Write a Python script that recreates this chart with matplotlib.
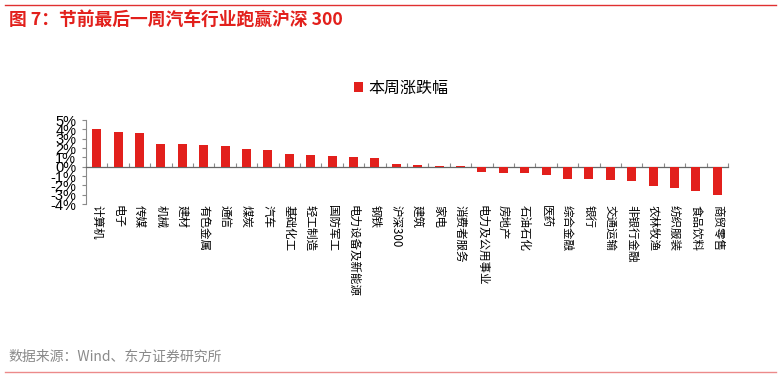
import matplotlib
matplotlib.use("Agg")
import matplotlib.pyplot as plt
from matplotlib.patches import Patch
from matplotlib.lines import Line2D
import numpy as np

plt.rcParams['font.family'] = ['Noto Sans CJK SC', 'DejaVu Sans']

categories = ["计算机", "电子", "传媒", "机械", "建材", "有色金属", "通信", "煤炭", "汽车",
              "基础化工", "轻工制造", "国防军工", "电力设备及新能源", "钢铁", "沪深300", "建筑",
              "家电", "消费者服务", "电力及公用事业", "房地产", "石油石化", "医药", "综合金融",
              "银行", "交通运输", "非银行金融", "农林牧渔", "纺织服装", "食品饮料", "商贸零售"]
values = [4.00, 3.70, 3.66, 2.46, 2.39, 2.28, 2.17, 1.85, 1.74,
          1.41, 1.27, 1.09, 1.00, 0.98, 0.33, 0.18,
          0.11, 0.04, -0.62, -0.69, -0.72, -0.87, -1.27,
          -1.30, -1.41, -1.56, -2.10, -2.30, -2.60, -3.05]
series_name = "本周涨跌幅"
yticks = [-4, -3, -2, -1, 0, 1, 2, 3, 4, 5]
ytick_labels = [f"{v}%" for v in yticks]

RED = "#e2201c"
GRAY = "#8a8a8a"

W, H = 782, 379
fig = plt.figure(figsize=(W / 100, H / 100), dpi=100)

# header / footer decorations
fig.add_artist(Line2D([5 / W, 776 / W], [1 - 5 / H, 1 - 5 / H], color="#e03030", lw=1.0))
fig.text(9 / W, 1 - 20 / H, "图 7：节前最后一周汽车行业跑赢沪深 300", color=RED,
         fontsize=12.8, fontweight="bold", va="center", ha="left")
fig.text(8 / W, 1 - 357 / H, "数据来源：Wind、东方证券研究所", color=GRAY,
         fontsize=10, va="center", ha="left")
fig.add_artist(Line2D([5 / W, 776 / W], [1 - 372 / H, 1 - 372 / H], color="#ec8a8a", lw=1.0))

ax = fig.add_axes([86 / W, 1 - 204 / H, (728 - 86) / W, (204 - 120) / H])
x = np.arange(len(categories))
ax.bar(x, values, width=0.42, color=RED, zorder=3)
ax.set_xlim(-0.5, len(categories) - 0.5)
ax.set_ylim(-4, 5)

ax.set_yticks(yticks)
ax.set_yticklabels(ytick_labels, family=["Liberation Sans", "DejaVu Sans"], fontsize=10.5)
ax.tick_params(axis="y", direction="out", length=3, width=0.8, color=GRAY, pad=4)

for s in ["top", "right"]:
    ax.spines[s].set_visible(False)
ax.spines["left"].set_color(GRAY)
ax.spines["left"].set_linewidth(0.8)
ax.spines["bottom"].set_position(("data", 0))
ax.spines["bottom"].set_color("#666666")
ax.spines["bottom"].set_linewidth(0.9)
ax.set_xticks(np.arange(-0.5, len(categories), 1.0))
ax.set_xticklabels([])
ax.tick_params(axis="x", direction="in", length=3, width=0.8, color=GRAY)

sec = ax.secondary_xaxis(0.0)
sec.set_xticks(x)
sec.set_xticklabels(categories, rotation=270, fontsize=8.3, va="top", ha="center")
sec.tick_params(length=0, pad=1)
sec.spines["bottom"].set_visible(False)

handle = Patch(facecolor=RED, edgecolor="none")
fig.legend([handle], [series_name], loc="center left",
           bbox_to_anchor=(346 / W, 1 - 88 / H), frameon=False, fontsize=11.5,
           handlelength=0.55, handleheight=0.55, handletextpad=0.35, borderpad=0)

fig.savefig("out.png", dpi=100)
